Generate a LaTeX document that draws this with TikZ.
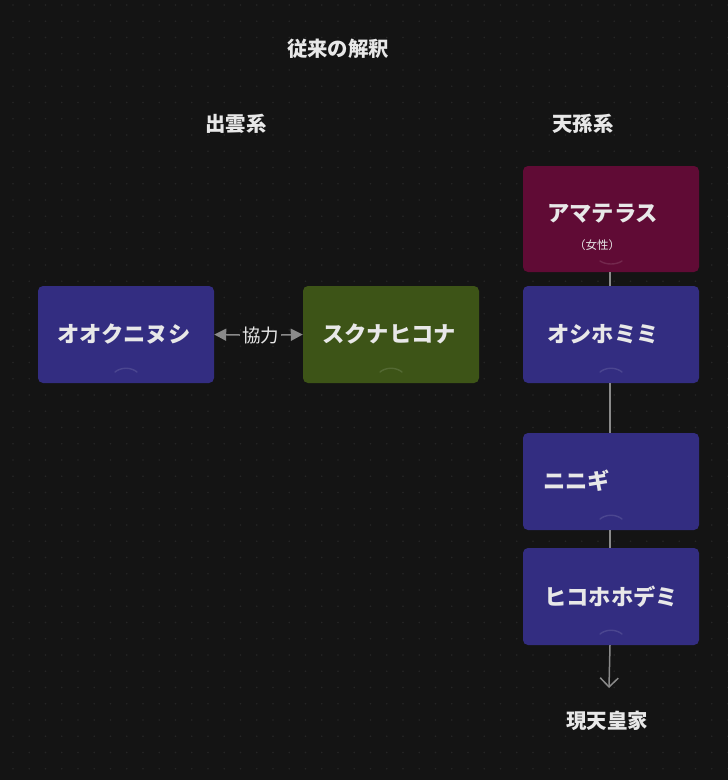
\documentclass[tikz,border=0pt]{standalone}
\usepackage{fontspec}
\setmainfont{Noto Sans CJK JP}
\usetikzlibrary{arrows.meta}
\definecolor{bg}{HTML}{141414}
\definecolor{gridc}{HTML}{262626}
\definecolor{bluebox}{HTML}{332D81}
\definecolor{redbox}{HTML}{600B35}
\definecolor{greenbox}{HTML}{3D5417}
\definecolor{txt}{HTML}{E8E8E8}
\definecolor{linec}{HTML}{8A8A8A}
\tikzset{
  box/.style={draw=none, rounded corners=5pt, minimum width=176pt, minimum height=97pt, inner sep=0pt},
  boxtext/.style={text=txt, font=\bfseries\fontsize{22.3}{25}\selectfont, inner sep=0pt, anchor=west},
  heading/.style={text=txt, font=\bfseries\fontsize{20.4}{23}\selectfont, inner sep=0pt},
  conn/.style={draw=linec, line width=1.5pt},
  handle/.style={line width=1.4pt, line cap=round}
}
\begin{document}
\begin{tikzpicture}[x=1pt,y=-1pt]
\fill[bg] (0,0) rectangle (728,780);
\useasboundingbox (0,0) rectangle (728,780);
\foreach \i in {0,...,44}{
  \foreach \j in {0,...,47}{
    \fill[gridc] (13+16.25*\i, 5+16.25*\j) circle (0.8pt);
  }
}
% headings
\node[heading] (title) at (338,49) {従来の解釈};
\node[heading] (izumo) at (236,124) {出雲系};
\node[heading] (tenson) at (583,124) {天孫系};
\node[heading] (imperial) at (607,721) {現天皇家};
% boxes
\node[box, fill=bluebox, minimum height=97pt] (okuni) at (126,334.5) {};
\node[box, fill=greenbox, minimum height=97pt] (sukuna) at (391,334.5) {};
\node[box, fill=redbox, minimum height=106pt] (ama) at (611,219) {};
\node[box, fill=bluebox] (oshi) at (611,334.5) {};
\node[box, fill=bluebox] (ninigi) at (611,481.5) {};
\node[box, fill=bluebox] (hiko) at (611,596.5) {};
% handles
\draw[handle, draw=bluebox!88!white] (115,372) .. controls (121,367) and (131,367) .. (137,372);
\draw[handle, draw=greenbox!88!white] (380,372) .. controls (386,367) and (396,367) .. (402,372);
\draw[handle, draw=redbox!88!white] (600,261) .. controls (606,265) and (616,265) .. (622,261);
\draw[handle, draw=bluebox!88!white] (600,372) .. controls (606,367) and (616,367) .. (622,372);
\draw[handle, draw=bluebox!88!white] (600,519) .. controls (606,514) and (616,514) .. (622,519);
\draw[handle, draw=bluebox!88!white] (600,634) .. controls (606,629) and (616,629) .. (622,634);
% box texts
\node[boxtext] (t1) at (57,334) {オオクニヌシ};
\node[boxtext] (t2) at (322,334) {スクナヒコナ};
\node[boxtext] (t3) at (547,214) {アマテラス};
\node[text=txt, font=\fontsize{11.5}{13}\selectfont, inner sep=0pt] (t3b) at (597,245) {（女性）};
\node[boxtext] (t4) at (547,334) {オシホミミ};
\node[boxtext] (t5) at (543,481) {ニニギ};
\node[boxtext] (t6) at (544,597) {ヒコホホデミ};
% cooperation arrow
\node[text=txt, font=\fontsize{18.5}{20}\selectfont, inner sep=0pt] (coop) at (260.5,335) {協力};
\draw[conn, -{Triangle[length=12pt,width=12pt]}] (coop.west) ++(-2,0) -- (okuni.east);
\draw[conn, -{Triangle[length=12pt,width=12pt]}] (coop.east) ++(2,0) -- (sukuna.east -| sukuna.west);
% lineage
\draw[conn] (ama.south -| 610,0) -- (oshi.north -| 610,0);
\draw[conn] (oshi.south -| 610,0) -- (ninigi.north -| 610,0);
\draw[conn] (ninigi.south -| 610,0) -- (hiko.north -| 610,0);
\coordinate (end) at (609,688);
\draw[conn, -{Straight Barb[length=9pt,width=18pt,line width=1.5pt]}] (hiko.south -| 610,0) -- (end);
\end{tikzpicture}
\end{document}
